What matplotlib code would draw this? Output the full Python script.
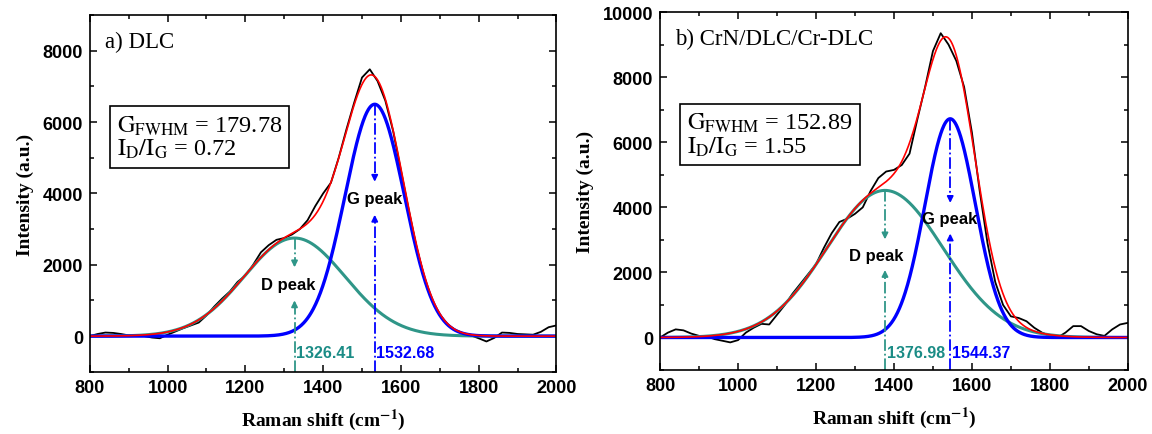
import numpy as np
import matplotlib
matplotlib.use("Agg")
from matplotlib import pyplot as plt
from matplotlib.ticker import MultipleLocator

plt.rcParams['mathtext.fontset'] = 'stix'

# Raman shift grid of the measured spectra (cm-1)
shift = np.arange(800, 2001, 20)

meas_a = [0, 60, 100, 90, 60, 20, 10, 0, -40, -60,
          40, 130, 220, 300, 380, 580, 830, 1050, 1250, 1520,
          1700, 2000, 2350, 2550, 2700, 2750, 2850, 3000, 3250, 3650,
          4000, 4300, 5000, 5800, 6550, 7250, 7480, 7150, 6600, 5750,
          4650, 3550, 2500, 1650, 1000, 600, 330, 170, 80, 20,
          -60, -150, -50, 100, 90, 60, 50, 40, 120, 250,
          300]
meas_b = [0, 150, 250, 220, 120, 50, 30, -50, -100, -150,
          -80, 150, 300, 420, 400, 700, 1000, 1350, 1650, 1950,
          2250, 2750, 3200, 3550, 3650, 3800, 4000, 4500, 4900, 5100,
          5150, 5300, 5650, 6700, 7700, 8800, 9350, 9000, 8500, 7700,
          6300, 4500, 2900, 1700, 1000, 650, 600, 500, 300, 150,
          50, 0, 150, 350, 350, 200, 100, 50, 250, 400,
          450]

# fitted peaks: centre, height, fwhm
d_peak_a = (1326.41, 2750, 306)
g_peak_a = (1532.68, 6500, 179.78)
d_peak_b = (1376.98, 4520, 352)
g_peak_b = (1544.37, 6720, 152.89)

titles = ["a) DLC", "b) CrN/DLC/Cr-DLC"]
box_texts = [r"$\mathrm{G_{FWHM}}$ = 179.78" + "\n" + r"$\mathrm{I_D/I_G}$ = 0.72",
             r"$\mathrm{G_{FWHM}}$ = 152.89" + "\n" + r"$\mathrm{I_D/I_G}$ = 1.55"]

TEAL = '#2f9688'
TEAL_TXT = '#1b8c86'
BLUE = '#0000ff'


def gauss(x, p):
    c, h, w = p
    s = w / 2.3548
    return h * np.exp(-(x - c) ** 2 / (2 * s ** 2))


def marker(ax, c, h, lab_y, lo, color, label, lab_x):
    # dash-dot guide line, split round the label with an arrow head on each side
    ax.plot([c, c], [lo, lab_y - 620], ls='-.', color=color, lw=1.3)
    ax.plot([c, c], [h, lab_y + 650], ls='-.', color=color, lw=1.3)
    ax.annotate('', xy=(c, lab_y + 400), xytext=(c, lab_y + 720),
                arrowprops=dict(arrowstyle='-|>', color=color, lw=1.3, mutation_scale=9))
    ax.annotate('', xy=(c, lab_y - 370), xytext=(c, lab_y - 690),
                arrowprops=dict(arrowstyle='-|>', color=color, lw=1.3, mutation_scale=9))
    ax.text(lab_x, lab_y, label, ha='center', va='center', fontsize=12,
            fontweight='bold', family='Liberation Sans')


def panel(ax, meas, dp, gp, ylim, title, box, dlab, glab):
    x = np.linspace(800, 2000, 1201)
    d = gauss(x, dp)
    g = gauss(x, gp)
    ax.plot(shift, meas, color='black', lw=1.3)
    ax.plot(x, d, color=TEAL, lw=2.2)
    ax.plot(x, g, color=BLUE, lw=2.4)
    ax.plot(x, d + g, color='red', lw=1.2)

    lo = ylim[0]
    marker(ax, dp[0], dp[1], dlab[1], lo, TEAL, 'D peak', dlab[0])
    marker(ax, gp[0], gp[1], glab[1], lo, BLUE, 'G peak', glab[0])

    ax.text(dp[0] + 4, -460, f'{dp[0]:.2f}', color=TEAL_TXT, fontsize=11.5, fontweight='bold',
            family='Liberation Sans', va='center', ha='left')
    ax.text(gp[0] + 4, -460, f'{gp[0]:.2f}', color=BLUE, fontsize=11.5, fontweight='bold',
            family='Liberation Sans', va='center', ha='left')

    ax.text(0.032, 0.925, title, transform=ax.transAxes, fontsize=16.5,
            family='Liberation Serif', va='center')
    ax.text(0.058, 0.658, box, transform=ax.transAxes, fontsize=17.5,
            family='Liberation Serif', va='center', linespacing=1.0,
            bbox=dict(boxstyle='square,pad=0.3', fc='white', ec='black', lw=1.2))

    ax.set_xlim(800, 2000)
    ax.set_ylim(*ylim)
    ax.xaxis.set_major_locator(MultipleLocator(200))
    ax.xaxis.set_minor_locator(MultipleLocator(100))
    ax.yaxis.set_major_locator(MultipleLocator(2000))
    ax.yaxis.set_minor_locator(MultipleLocator(1000))
    ax.tick_params(which='both', direction='in', top=True, right=True, width=1.1)
    ax.tick_params(which='major', length=5, pad=5)
    ax.tick_params(which='minor', length=3)
    for lab in ax.get_xticklabels() + ax.get_yticklabels():
        lab.set_fontweight('bold')
        lab.set_family('Liberation Sans')
        lab.set_fontsize(13)
    for sp in ax.spines.values():
        sp.set_linewidth(1.2)
    ax.set_xlabel(r'Raman shift (cm$^{\mathbf{-1}}$)', fontsize=14, fontweight='bold',
                  family='Liberation Serif', labelpad=8)
    ax.set_ylabel('Intensity (a.u.)', fontsize=14, fontweight='bold',
                  family='Liberation Serif', labelpad=6)


fig = plt.figure(figsize=(11.52, 4.35), dpi=100)
ax1 = fig.add_axes([0.078, 0.143, 0.405, 0.820])
ax2 = fig.add_axes([0.573, 0.147, 0.406, 0.823])

panel(ax1, meas_a, d_peak_a, g_peak_a, (-1000, 9000), titles[0], box_texts[0],
      (1310, 1450), (1532, 3850))
panel(ax2, meas_b, d_peak_b, g_peak_b, (-1000, 10000), titles[1], box_texts[1],
      (1355, 2530), (1544, 3650))

fig.savefig('out.png', dpi=100)
